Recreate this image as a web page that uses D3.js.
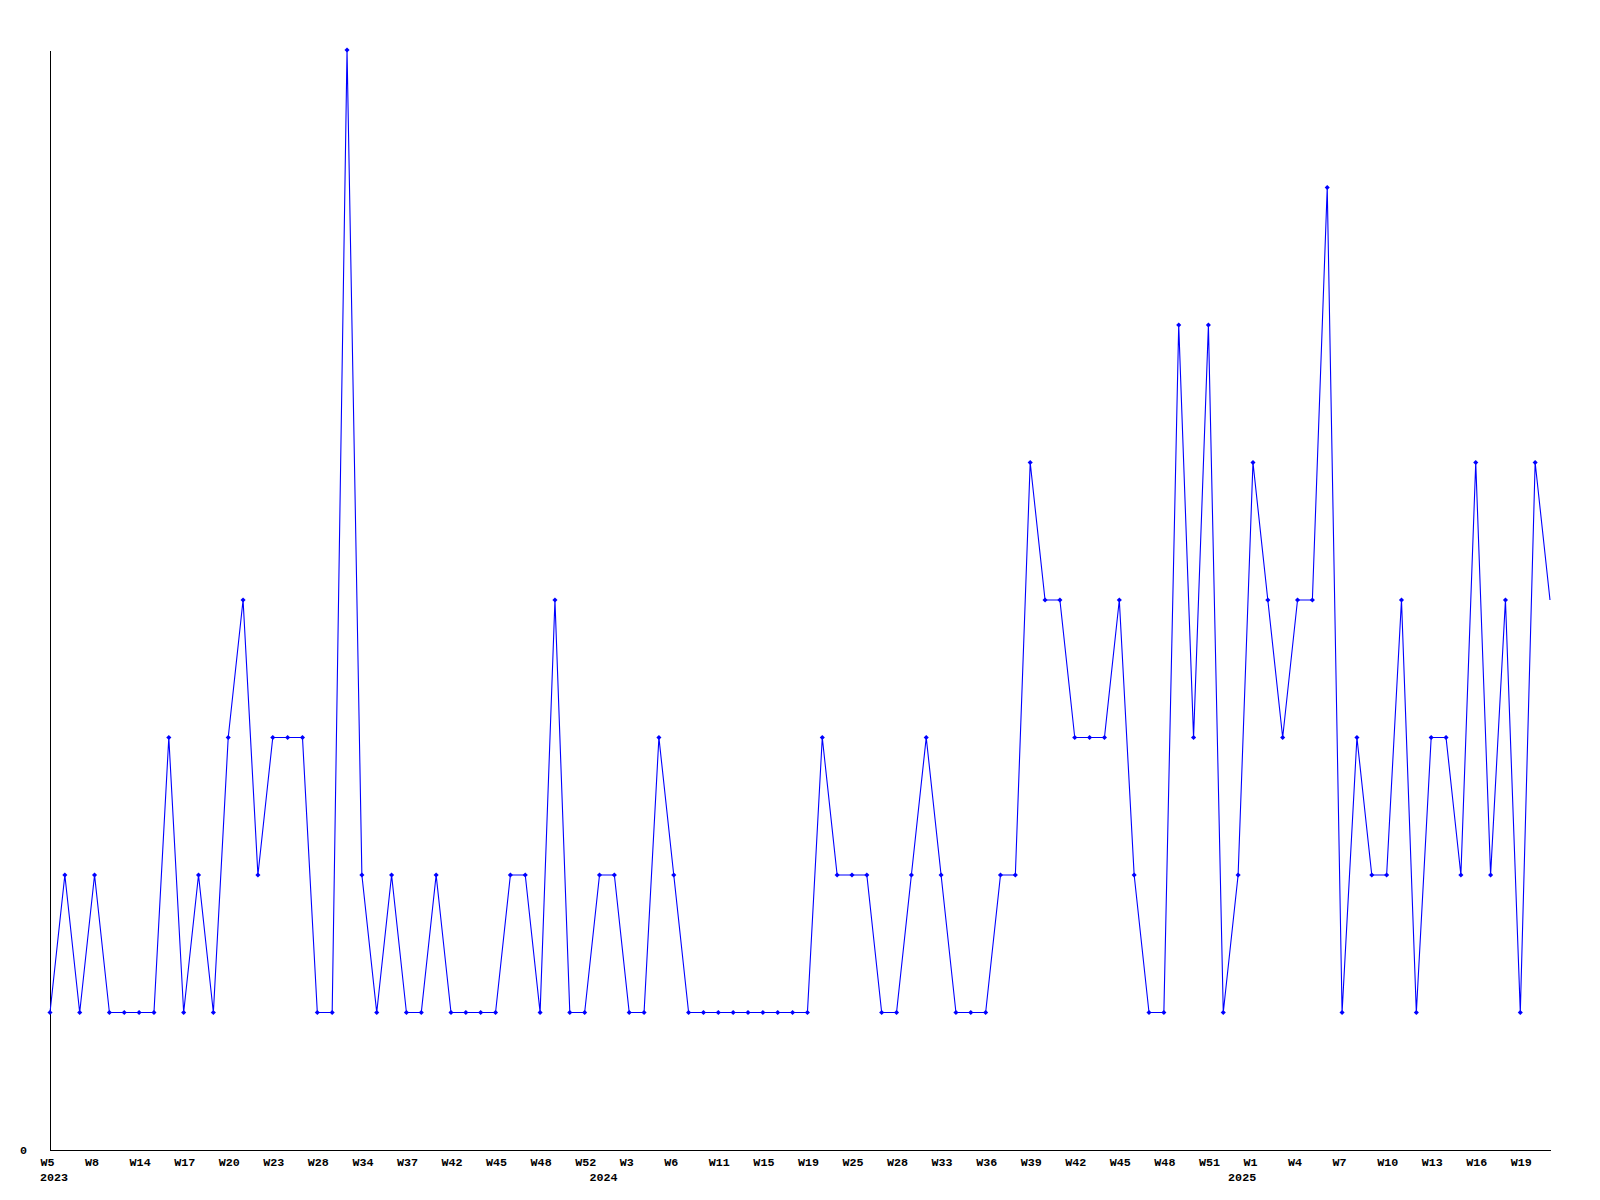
<!DOCTYPE html>
<html>
<head>
<meta charset="utf-8">
<script src="https://cdn.jsdelivr.net/npm/d3@7"></script>
<style>
  html, body { margin: 0; padding: 0; background: #ffffff; }
  svg { display: block; }
  text { font-family: "Liberation Mono", "DejaVu Sans Mono", monospace; font-weight: bold; font-size: 11.7px; fill: #000; }
</style>
</head>
<body>
<script>
// ---- data ----
const values = [
  1,2,1,2,1,1,1,1,3,1,
  2,1,3,4,2,3,3,3,1,1,
  8,2,1,2,1,1,2,1,1,1,
  1,2,2,1,4,1,1,2,2,1,
  1,3,2,1,1,1,1,1,1,1,
  1,1,3,2,2,2,1,1,2,3,
  2,1,1,1,2,2,5,4,4,3,
  3,3,4,2,1,1,6,3,6,1,
  2,5,4,3,4,4,7,1,3,2,
  2,4,1,3,3,2,5,2,4,1,
  5,4
];
const weekLabels = [
  "W5","W8","W14","W17","W20","W23","W28","W34","W37","W42","W45","W48","W52",
  "W3","W6","W11","W15","W19","W25","W28","W33","W36","W39","W42","W45","W48","W51",
  "W1","W4","W7","W10","W13","W16","W19"
];
const labelEvery = 3;
const yearLabels = ["2023", "2024", "2025"];
const yearStartIndex = [0, 37, 80];
const yTickValues = [0];
const yMax = 8;

// ---- layout ----
const W = 1600, H = 1200;
const mLeft = 50, mRight = 1550, mTop = 50, mBottom = 1150;

const svg = d3.select("body").append("svg").attr("width", W).attr("height", H);

const x = d3.scaleLinear().domain([0, values.length - 1]).range([mLeft, mRight]);
const y = d3.scaleLinear().domain([0, yMax]).range([mBottom, mTop]);

// x axis
const tickIdx = weekLabels.map((_, i) => i * labelEvery);
const xAxis = d3.axisBottom(x)
  .tickValues(tickIdx)
  .tickFormat((d) => weekLabels[d / labelEvery])
  .tickSize(0)
  .tickSizeOuter(0);
const gx = svg.append("g").attr("transform", `translate(0,${mBottom})`).call(xAxis);
gx.attr("font-family", null).attr("font-size", null);
gx.select(".domain").attr("stroke", "#000").attr("stroke-width", 1).attr("shape-rendering", "crispEdges");
gx.selectAll(".tick text")
  .attr("text-anchor", "start")
  .attr("x", -10)
  .attr("y", 16)
  .attr("dy", 0);

// year labels
svg.append("g").selectAll("text")
  .data(yearLabels)
  .join("text")
  .attr("x", (d, i) => x(yearStartIndex[i]) - 10)
  .attr("y", mBottom + 31)
  .attr("text-anchor", "start")
  .text((d) => d);

// y axis
const yAxis = d3.axisLeft(y).tickValues(yTickValues).tickFormat(d3.format("d")).tickSize(0).tickSizeOuter(0);
const gy = svg.append("g").attr("transform", `translate(${mLeft},0)`).call(yAxis);
gy.attr("font-family", null).attr("font-size", null);
gy.select(".domain").attr("stroke", "#000").attr("stroke-width", 1).attr("shape-rendering", "crispEdges");
gy.selectAll(".tick text")
  .attr("text-anchor", "start")
  .attr("x", -30);

// line
const line = d3.line().x((d, i) => x(i)).y((d) => y(d));
svg.append("path")
  .datum(values)
  .attr("d", line)
  .attr("fill", "none")
  .attr("stroke", "#0000ff")
  .attr("stroke-width", 1.1);

// markers
const sym = d3.symbol().type(d3.symbolSquare).size(13);
svg.append("g").selectAll("path")
  .data(values.map((v, i) => ({ v, i })).filter((d) => x(d.i) < mRight - 1))
  .join("path")
  .attr("d", sym)
  .attr("transform", (d) => `translate(${x(d.i)},${y(d.v)}) rotate(45)`)
  .attr("fill", "#0000ff");
</script>
</body>
</html>
